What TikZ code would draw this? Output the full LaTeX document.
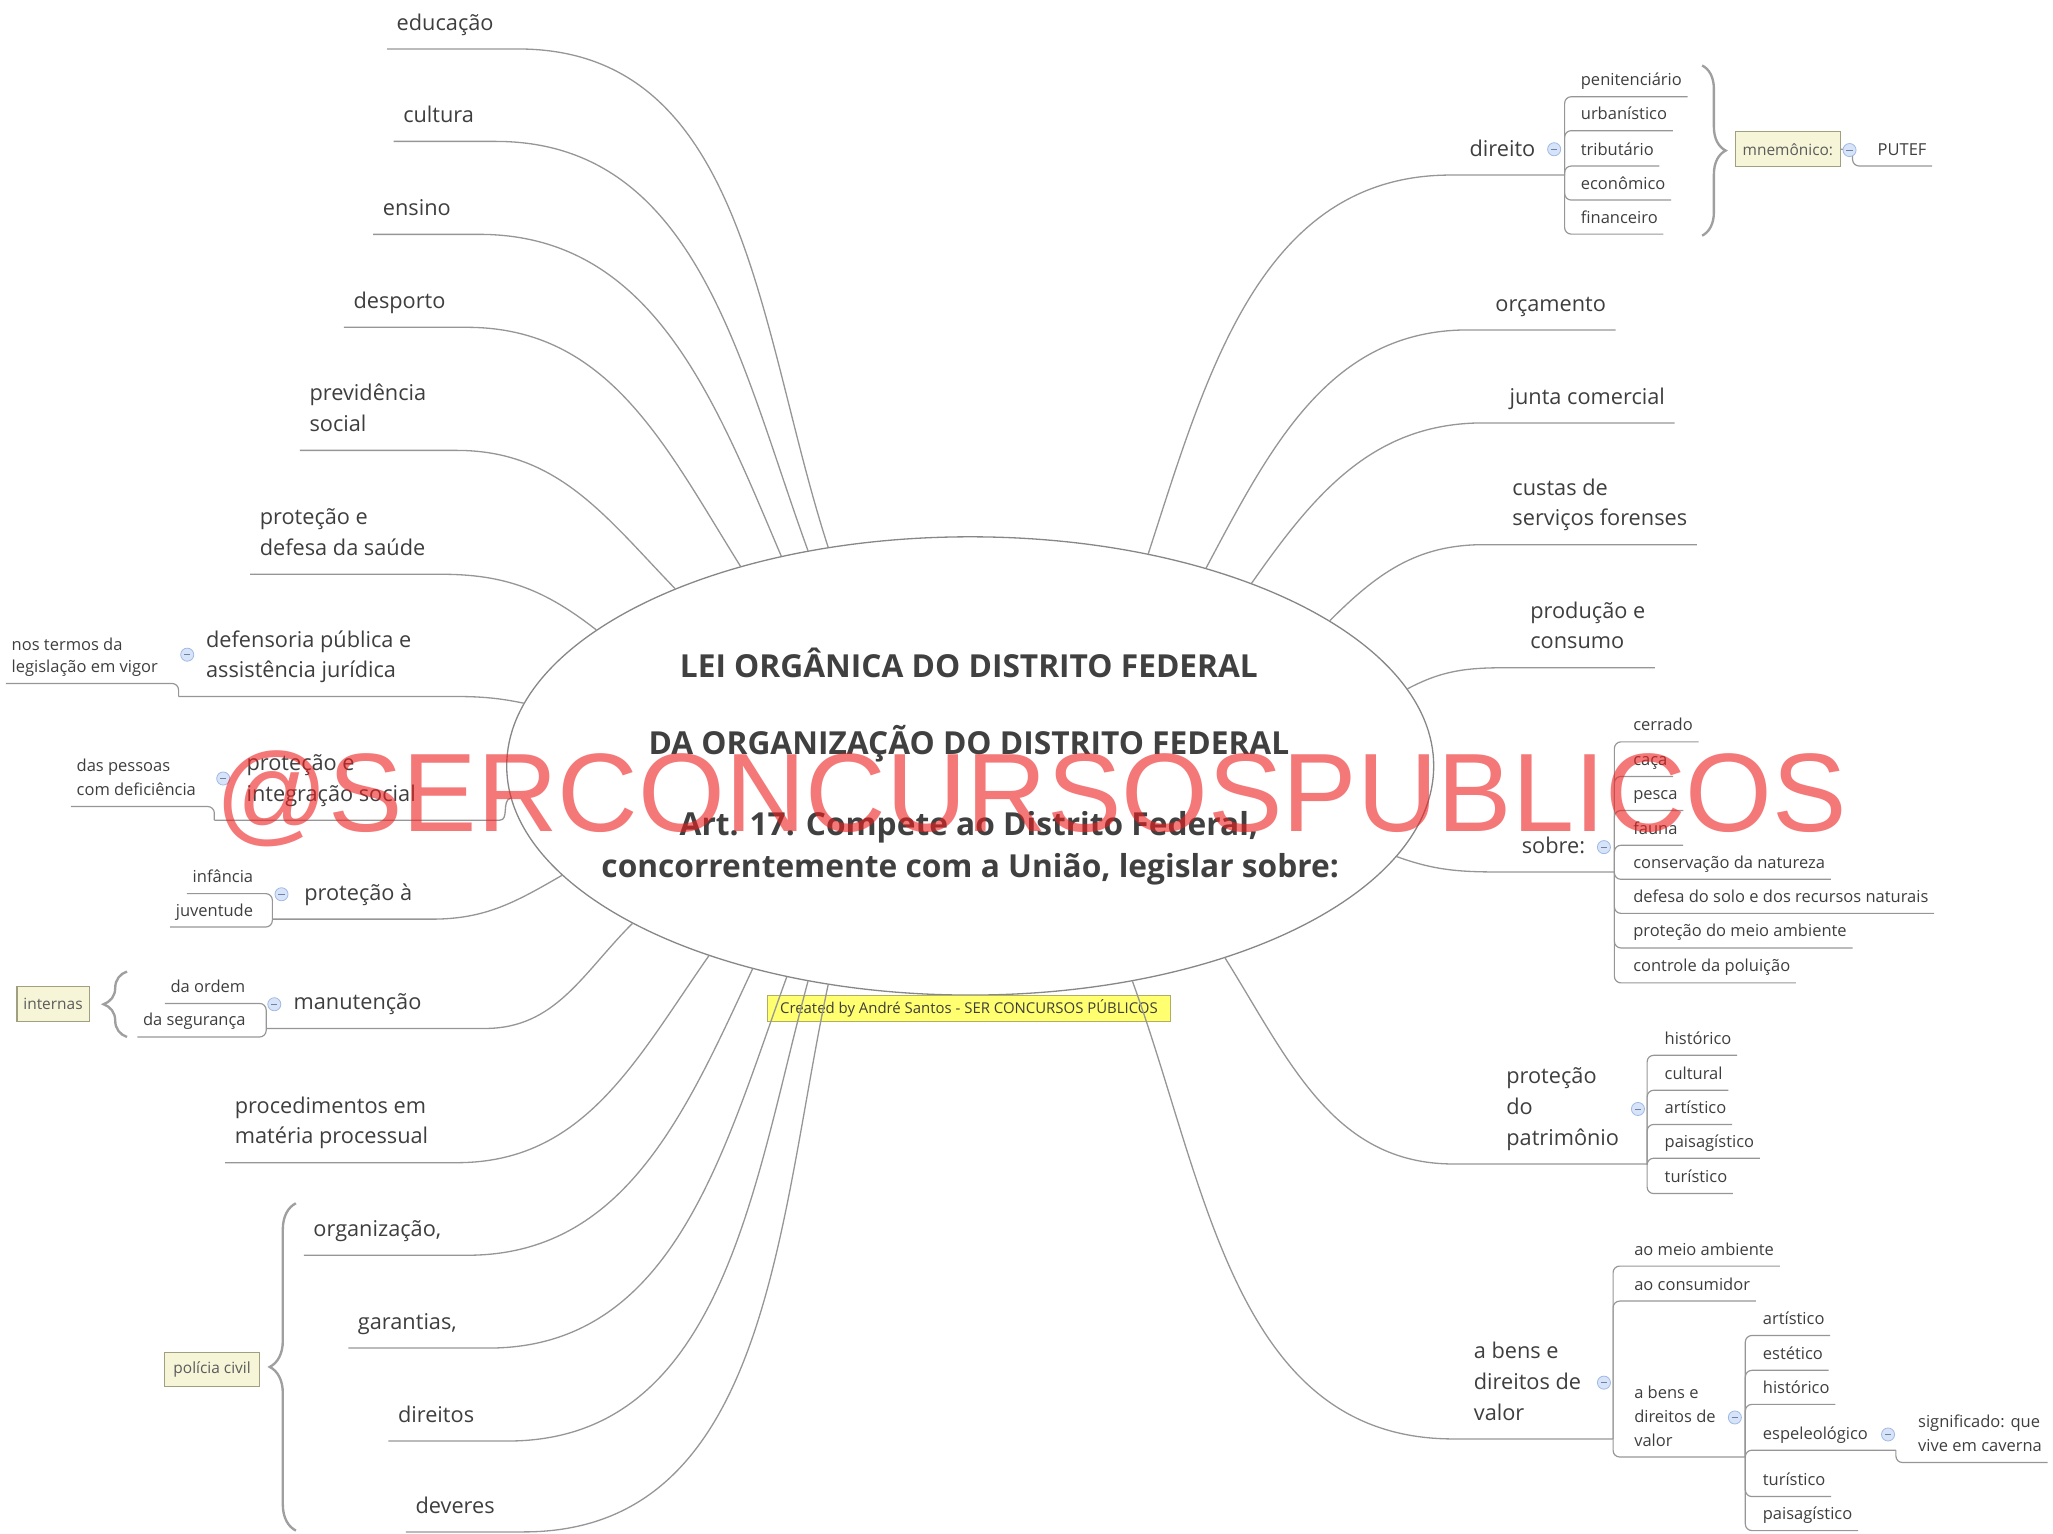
\documentclass[tikz,border=0pt]{standalone}
\usepackage{fontspec}
\setmainfont{Open Sans}
\newfontfamily\stampfont{Liberation Sans}
\usetikzlibrary{shapes.geometric,decorations.pathreplacing}

\definecolor{linegray}{RGB}{150,150,150}
\definecolor{coregray}{RGB}{135,135,135}
\definecolor{txtgray}{RGB}{62,62,62}
\definecolor{titlegray}{RGB}{64,64,64}
\definecolor{notebg}{RGB}{246,245,216}
\definecolor{notebd}{RGB}{160,160,128}
\definecolor{togbg}{RGB}{214,227,248}
\definecolor{togbd}{RGB}{160,185,228}
\definecolor{credbg}{RGB}{255,255,112}
\definecolor{credbd}{RGB}{175,175,100}
\definecolor{stampred}{RGB}{236,30,30}

\newcommand{\mainstrut}{\rule[-7pt]{0pt}{1pt}}
\newcommand{\substrut}{\rule[-4pt]{0pt}{1pt}}

\tikzset{
  branch/.style={draw=linegray,line width=0.5pt},
  twig/.style={draw=linegray,line width=0.45pt,rounded corners=2.5pt},
  main/.style={inner xsep=3.5pt,inner ysep=0pt,align=left,text=txtgray,font=\fontsize{8.3}{11.7}\selectfont},
  sub/.style={inner xsep=2pt,inner ysep=0pt,align=left,text=txtgray,font=\fontsize{6.3}{9}\selectfont},
  note/.style={draw=notebd,fill=notebg,text=txtgray!85,font=\fontsize{5.9}{7}\selectfont,inner sep=0pt,minimum height=13.3pt},
  tog/.style={circle,draw=togbd,fill=togbg,line width=0.3pt,minimum size=5pt,inner sep=0pt,
    path picture={\draw[togbd!70!black,line width=0.35pt] ([xshift=-1.2pt]path picture bounding box.center) -- ([xshift=1.2pt]path picture bounding box.center);}},
  curly/.style={decorate,decoration={brace,amplitude=#1},draw=gray!75,line width=0.9pt},
  curly/.default=9pt,
  title/.style={inner sep=0pt,text=titlegray,font=\bfseries\fontsize{12.1}{14}\selectfont},
}

\begin{document}
\begin{tikzpicture}[x=0.5pt,y=-0.5pt]
\useasboundingbox (0,0) rectangle (1568,1171);

% centre
\node[ellipse,draw=coregray,line width=0.5pt,minimum width=354pt,minimum height=175pt,inner sep=0pt] (core) at (741,585) {};
\node[title] (tit1) at (740,506) {LEI ORGÂNICA DO DISTRITO FEDERAL};
\node[title] (tit2) at (740,568) {DA ORGANIZAÇÃO DO DISTRITO FEDERAL};
\node[title] (tit3) at (740,632) {Art. 17. Compete ao Distrito Federal,};
\node[title] (tit4) at (741,664) {concorrentemente com a União, legislar sobre:};
\node[draw=credbd,fill=credbg,text=txtgray,font=\fontsize{5.7}{7}\selectfont,minimum width=154pt,minimum height=10pt,inner sep=0pt] (cred) at (740,770) {Created by André Santos - SER CONCURSOS PÚBLICOS};

% left side
\node[main,anchor=south west] (edu) at (295.6,37.4) {educação\mainstrut};
\node[main,anchor=south west] (cult) at (300.6,108) {cultura\mainstrut};
\node[main,anchor=south west] (ens) at (285,179) {ensino\mainstrut};
\node[main,anchor=south west] (desp) at (262.6,250) {desporto\mainstrut};
\node[main,anchor=south west] (prev) at (229,344) {previdência\\social\mainstrut};
\node[main,anchor=south west] (saude) at (191,438.6) {proteção e\\defesa da saúde\mainstrut};
\coordinate (jdef) at (136.4,532);
\node[main,anchor=south west,xshift=6.8pt] (def) at (jdef) {defensoria pública e\\assistência jurídica\mainstrut};
\coordinate (jint) at (163.7,626.4);
\node[main,anchor=south west,xshift=8.6pt] (integ) at (jint) {proteção e\\integração social\mainstrut};
\coordinate (jpro) at (208,702);
\node[main,anchor=south west,xshift=8.5pt] (prot) at (jpro) {proteção à\mainstrut};
\coordinate (jman) at (203.3,785.5);
\node[main,anchor=south west,xshift=6.8pt] (manut) at (jman) {manutenção\mainstrut};
\node[main,anchor=south west] (proc) at (172,888) {procedimentos em\\matéria processual\mainstrut};
\node[main,anchor=south west] (org) at (232,958.7) {organização,\mainstrut};
\node[main,anchor=south west] (gar) at (266,1029.6) {garantias,\mainstrut};
\node[main,anchor=south west] (dirs) at (296.6,1100.6) {direitos\mainstrut};
\node[main,anchor=south west] (dev) at (310,1170) {deveres\mainstrut};

\draw[branch] (edu.south west) -- ++(100,0) to[out=0,in=108] (core.123);
\draw[branch] (cult.south west) -- ++(78,0) to[out=0,in=110] (core.127.8);
\draw[branch] (ens.south west) -- ++(81,0) to[out=0,in=113] (core.132.2);
\draw[branch] (desp.south west) -- ++(94,0) to[out=0,in=122] (core.139.1);
\draw[branch] (prev.south west) -- ++(120,0) to[out=0,in=134] (core.149.4);
\draw[branch] (saude.south west) -- ++(146,0) to[out=0,in=142] (core.160.2);
\draw[branch] (jdef) -- ++(189,0) to[out=0,in=168] (core.172.5);
\draw[branch] (jint) -- ++(218,0) to[out=0,in=195] (core.184.5);
\draw[branch] (jpro) -- ++(122,0) to[out=0,in=210] (core.195.7);
\draw[branch] (jman) -- ++(167,0) to[out=0,in=225] (core.205.8);
\draw[branch] (proc.south west) -- ++(177,0) to[out=0,in=235] (core.216.9);
\draw[branch] (org.south west) -- ++(125,0) to[out=0,in=245] (core.223.4);
\draw[branch] (gar.south west) -- ++(107,0) to[out=0,in=250] (core.229);
\draw[branch] (dirs.south west) -- ++(91,0) to[out=0,in=255] (core.233.4);
\draw[branch] (dev.south west) -- ++(90,0) to[out=0,in=258] (core.237.5);

% left children
\node[sub,anchor=south east,font=\fontsize{6.3}{8.2}\selectfont] (nos) at (125,522) {nos termos da\\legislação em vigor\substrut};
\draw[twig] (jdef) |- (nos.south west);
\node[sub,anchor=south east] (pess) at (154,616) {das pessoas\\com deficiência\substrut};
\draw[twig] (jint) |- (pess.south west);
\node[sub,anchor=south east] (inf) at (197.7,682.5) {infância\substrut};
\node[sub,anchor=south east] (juv) at (197.7,708) {juventude\substrut};
\draw[twig] (jpro) |- (inf.south west);
\draw[twig] (jpro) |- (juv.south west);
\node[sub,anchor=south east] (ordem) at (191.7,766.4) {da ordem\substrut};
\node[sub,anchor=south east] (seg) at (192,792) {da segurança\substrut};
\draw[twig] (jman) |- (ordem.south west);
\draw[twig] (jman) |- (seg.south west);
\draw[curly] (97,792) -- (97,742);
\node[note,minimum width=27.5pt] (intern) at (40.5,767) {internas};
\draw[curly=10pt] (226,1169) -- (226,919);
\node[note,minimum width=36pt] (pol) at (162,1046) {polícia civil};

% right side
\coordinate (jdir) at (1195,133.7);
\node[main,anchor=south east] (direito) at (1180,133.7) {direito\mainstrut};
\node[main,anchor=south east] (orc) at (1234,252) {orçamento\mainstrut};
\node[main,anchor=south east] (junta) at (1279,323) {junta comercial\mainstrut};
\node[main,anchor=south east] (custas) at (1296,416) {custas de\\serviços forenses\mainstrut};
\node[main,anchor=south east] (prod) at (1264,510) {produção e\\consumo\mainstrut};
\coordinate (jsob) at (1233,666);
\node[main,anchor=south east] (sobre) at (1218,666) {sobre:\mainstrut};
\coordinate (jpat) at (1258,889);
\node[main,anchor=south east] (patr) at (1244,889) {proteção\\do\\patrimônio\mainstrut};
\coordinate (jbens) at (1232,1099);
\node[main,anchor=south east] (bens) at (1215,1099) {a bens e\\direitos de\\valor\mainstrut};

\draw[branch] (jdir) -- ++(-87,0) to[out=180,in=72] (core.50);
\draw[branch] (orc.south east) -- ++(-113,0) to[out=180,in=62] (core.40.2);
\draw[branch] (junta.south east) -- ++(-146,0) to[out=180,in=55] (core.33);
\draw[branch] (custas.south east) -- ++(-163,0) to[out=180,in=45] (core.22.3);
\draw[branch] (prod.south east) -- ++(-114,0) to[out=180,in=28] (core.10.2);
\draw[branch] (jsob) -- ++(-83,0) to[out=180,in=-20] (core.348.8);
\draw[branch] (jpat) -- ++(-148,0) to[out=180,in=-58] (core.323.1);
\draw[branch] (jbens) -- ++(-122,0) to[out=180,in=-70] (core.307.9);

% right children
\foreach \n/\t/\y in {pen/penitenciário/73.9,urb/urbanístico/99.8,trib/tributário/126.8,econ/econômico/152.8,fin/financeiro/178.8}{
  \node[sub,anchor=south west] (\n) at (1203,\y) {\t\substrut};
  \draw[twig] (jdir) |- (\n.south east);
}
\draw[curly] (1300,50) -- (1300,180);
\node[note,minimum width=40pt] (mnem) at (1365.5,114) {mnemônico:};
\node[sub,anchor=south west] (putef) at (1429.7,126.8) {PUTEF\substrut};
\draw[twig] (mnem.east) -- ++(9,0) |- (putef.south east);

\foreach \n/\t/\y in {cerr/cerrado/566.6,caca/caça/593,pesca/pesca/619,fauna/fauna/645.6,cons/conservação da natureza/671.6,solo/defesa do solo e dos recursos naturais/697.6,meio/proteção do meio ambiente/724,polu/controle da poluição/750.7}{
  \node[sub,anchor=south west] (\n) at (1243,\y) {\t\substrut};
  \draw[twig] (jsob) |- (\n.south east);
}

\foreach \n/\t/\y in {phist/histórico/806,pcult/cultural/832.7,part/artístico/858.8,ppais/paisagístico/884.6,ptur/turístico/911.6}{
  \node[sub,anchor=south west] (\n) at (1267,\y) {\t\substrut};
  \draw[twig] (jpat) |- (\n.south east);
}

\foreach \n/\t/\y in {bmeio/ao meio ambiente/967,bcons/ao consumidor/993.7}{
  \node[sub,anchor=south west] (\n) at (1243.8,\y) {\t\substrut};
  \draw[twig] (jbens) |- (\n.south east);
}
\node[sub,anchor=south west] (bens2) at (1243.8,1112.8) {a bens e\\direitos de\\valor\substrut};
\coordinate (jbens2) at (1333,1112.8);
\draw[twig] (jbens) |- (jbens2);
\foreach \n/\t/\y in {vart/artístico/1020,vest/estético/1046.6,vhist/histórico/1072.6,vtur/turístico/1143,vpais/paisagístico/1169}{
  \node[sub,anchor=south west] (\n) at (1342,\y) {\t\substrut};
  \draw[twig] (jbens2) |- (\n.south east);
}
\node[sub,anchor=south west] (esp) at (1342,1107.6) {espeleológico\substrut};
\coordinate (jesp) at (1448,1107.6);
\draw[twig] (jbens2) |- (jesp);
\node[sub,anchor=south west] (sig) at (1460.6,1117) {significado: que\\vive em caverna\substrut};
\draw[twig] (jesp) |- (sig.south east);

% collapse marks
\node[tog] (tdir) at (1187,114) {};
\node[tog] (tmnem) at (1412.6,114.6) {};
\node[tog] (tsob) at (1225,647) {};
\node[tog] (tpat) at (1251,847) {};
\node[tog] (tbens) at (1225,1056) {};
\node[tog] (tbens2) at (1325,1082.6) {};
\node[tog] (tesp) at (1442,1095.6) {};
\node[tog] (tdef) at (143,500) {};
\node[tog] (tint) at (170.5,594.6) {};
\node[tog] (tpro) at (215,683) {};
\node[tog] (tman) at (209.5,767) {};

% watermark
\node[inner sep=0pt,anchor=base,text=stampred,text opacity=0.6,font=\stampfont\fontsize{42.6}{50}\selectfont] (stamp) at (787.5,635) {@SERCONCURSOSPUBLICOS};
\end{tikzpicture}
\end{document}
